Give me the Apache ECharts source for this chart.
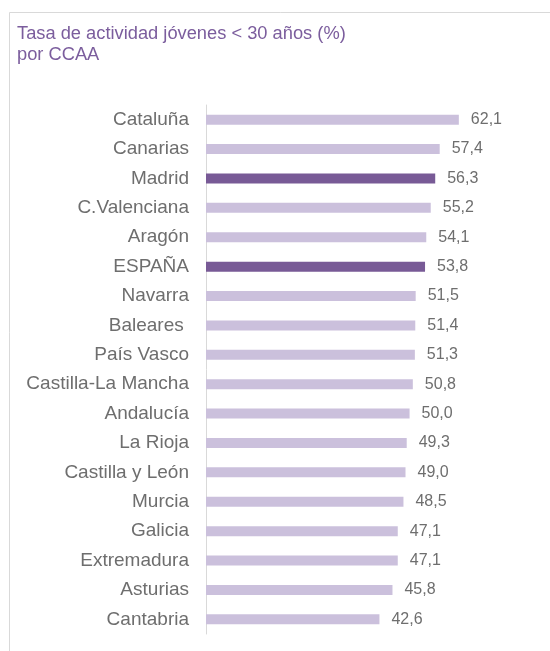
<!DOCTYPE html>
<html>
<head>
<meta charset="utf-8">
<script src="https://cdn.jsdelivr.net/npm/echarts@6/dist/echarts.min.js"></script>
<style>
  html, body { margin: 0; padding: 0; background: #fff; }
  #chart { width: 550px; height: 651px; }
</style>
</head>
<body>
<div id="chart"></div>
<script>
// categorías (de arriba a abajo)
var categories = ['Cataluña', 'Canarias', 'Madrid', 'C.Valenciana', 'Aragón', 'ESPAÑA',
  'Navarra', 'Baleares ', 'País Vasco', 'Castilla-La Mancha', 'Andalucía', 'La Rioja',
  'Castilla y León', 'Murcia', 'Galicia', 'Extremadura', 'Asturias', 'Cantabria']
// tasa de actividad (%)
var values = [62.1, 57.4, 56.3, 55.2, 54.1, 53.8, 51.5, 51.4, 51.3, 50.8, 50.0, 49.3,
  49.0, 48.5, 47.1, 47.1, 45.8, 42.6]
// barras destacadas
var highlighted = ['Madrid', 'ESPAÑA']

var lightColor = '#cbc0dc'
var darkColor = '#785a96'
var textGray = '#6e6e6e'

var seriesData = values.map(function (v, i) {
  return {
    value: v,
    itemStyle: { color: highlighted.indexOf(categories[i]) >= 0 ? darkColor : lightColor }
  }
})

var option = {
  backgroundColor: '#fff',
  animation: false,
  textStyle: { fontFamily: 'Liberation Sans, Arial, sans-serif' },
  title: {
    text: 'Tasa de actividad jóvenes < 30 años (%)\npor CCAA',
    left: 17,
    top: 23,
    padding: 0,
    textStyle: {
      color: '#7b5d9d',
      fontSize: 18.3,
      fontWeight: 'normal',
      lineHeight: 21,
      fontFamily: 'Liberation Sans, Arial, sans-serif'
    }
  },
  graphic: [
    {
      type: 'rect',
      shape: { x: 9.5, y: 12.5, width: 700, height: 800 },
      style: { fill: null, stroke: '#d9d9d9', lineWidth: 1 },
      silent: true
    }
  ],
  grid: {
    left: 206,
    right: 59,
    top: 105,
    bottom: 17,
    containLabel: false
  },
  xAxis: {
    type: 'value',
    min: 0,
    max: 70,
    show: false,
    splitLine: { show: false }
  },
  yAxis: {
    type: 'category',
    inverse: true,
    data: categories,
    axisLine: { show: true, lineStyle: { color: '#d9d9d9', width: 1 } },
    axisTick: { show: false },
    axisLabel: {
      color: textGray,
      fontSize: 19,
      margin: 17,
      fontFamily: 'Liberation Sans, Arial, sans-serif'
    }
  },
  series: [
    {
      type: 'bar',
      data: seriesData,
      barWidth: 10,
      label: {
        show: true,
        position: 'right',
        distance: 12,
        color: textGray,
        fontSize: 16,
        fontFamily: 'Liberation Sans, Arial, sans-serif',
        formatter: function (p) {
          return p.value.toFixed(1).replace('.', ',')
        }
      }
    }
  ]
}

var myChart = echarts.init(document.getElementById('chart'))
myChart.setOption(option)
</script>
</body>
</html>
